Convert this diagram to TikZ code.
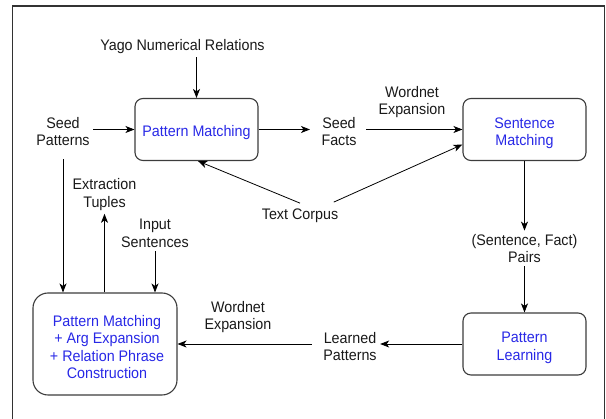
\documentclass[tikz,border=0pt]{standalone}
\usepackage{fontspec}
\setmainfont{Liberation Sans}[FakeStretch=0.935]
\usetikzlibrary{arrows.meta}
\definecolor{boxtext}{RGB}{40,40,230}
\definecolor{boxline}{RGB}{60,60,60}
\definecolor{frameline}{RGB}{50,50,50}
\begin{document}
\begin{tikzpicture}[x=1pt,y=-1pt,
  every node/.style={font=\fontsize{15.3}{17.5}\selectfont, align=center, text=black!90},
  procbox/.style={draw=boxline, line width=1.1pt, rounded corners=8pt},
  boxlabel/.style={text=boxtext},
  arr/.style={-{Stealth[length=9pt,width=7pt,inset=2.5pt]}, line width=0.8pt, black}
]
\useasboundingbox (0,0) rectangle (606,419);
\begin{scope}
  \clip (0,0) rectangle (606,419);
  \draw[frameline, line width=1.5pt] (12.5,430) -- (12.5,6) -- (604.5,6) -- (604.5,430);
\end{scope}

% process boxes
\node[procbox, minimum width=123pt, minimum height=62pt] (PM) at (196.5,129.5) {};
\node[procbox, minimum width=123pt, minimum height=62pt] (SM) at (524.5,129.5) {};
\node[procbox, minimum width=123pt, minimum height=62pt] (PL) at (524.5,344) {};
\node[procbox, minimum width=144pt, minimum height=102pt, rounded corners=15pt] (BIG) at (105,344) {};

% box texts
\node[boxlabel] (PMT) at (196.5,132.6) {Pattern Matching};
\node[boxlabel] (SMT) at (524.5,133.1) {Sentence\\Matching};
\node[boxlabel] (PLT) at (524.5,347.9) {Pattern\\Learning};
\node[boxlabel] (BIGT) at (107,346.8) {Pattern Matching\\+ Arg Expansion\\+ Relation Phrase\\Construction};

% labels
\node (Y) at (182.5,46.6) {Yago Numerical Relations};
\node (SP) at (63,131.6) {Seed\\Patterns};
\node (SF) at (339,131.6) {Seed\\Facts};
\node (WE1) at (412,102.1) {Wordnet\\Expansion};
\node (TC) at (300,215.6) {Text Corpus};
\node (PR) at (524.5,248.5) {(Sentence, Fact)\\Pairs};
\node (LP) at (350,346.3) {Learned\\Patterns};
\node (WE2) at (238,316.9) {Wordnet\\Expansion};
\node (ET) at (104.5,194.4) {Extraction\\Tuples};
\node (IS) at (155,233.5) {Input\\Sentences};

% connectors
\draw[arr] (PM.north |- Y.south) -- (PM.north);
\draw[arr] (SP.east |- PM.west) -- (PM.west);
\draw[arr, shorten >=8pt] (PM.east) -- (PM.east -| SF.west);
\draw[arr, shorten <=6pt] (SF.east |- SM.west) -- (SM.west);
\draw[arr] ([yshift=2pt]TC.north) -- ([xshift=1.5pt]PM.south);
\draw[arr] ([xshift=-8pt,yshift=3pt]TC.north east) -- ([yshift=-15pt]SM.west);
\draw[arr] (SM.south) -- (PR.north);
\draw[arr] (PR.south) -- (PL.north);
\draw[arr] (PL.west) -- (PL.west -| LP.east);
\draw[arr] ([xshift=-8pt]LP.west |- PL.west) -- (BIG.east);
\draw[arr, shorten <=10pt] (SP.south) -- (SP.south |- BIG.north);
\draw[arr] (BIG.north -| ET.south) -- (ET.south);
\draw[arr] (IS.south) -- (IS.south |- BIG.north);
\end{tikzpicture}
\end{document}
